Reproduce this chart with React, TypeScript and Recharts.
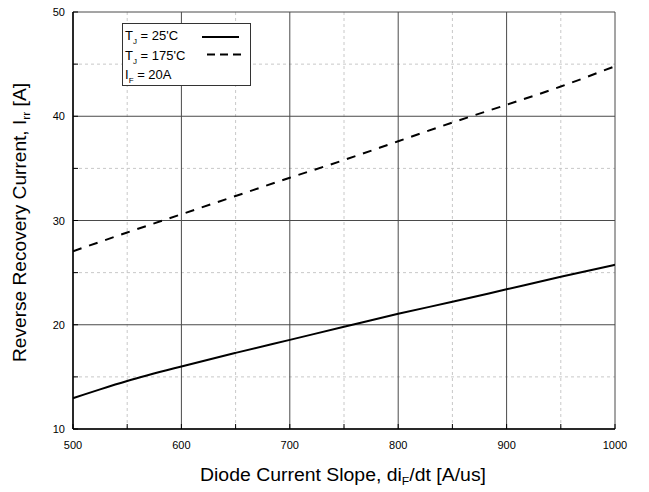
import { CartesianGrid, Legend, Line, LineChart, XAxis, YAxis } from 'recharts';

document.body.style.margin = '0';

const slopeTicks = [500, 600, 700, 800, 900, 1000];
const slopeMinor = [550, 650, 750, 850, 950];
const currentTicks = [10, 20, 30, 40, 50];
const currentMinor = [15, 25, 35, 45];

// T_J = 25'C
const slope25 = [500, 510, 525, 550, 600, 650, 700, 750, 800, 850, 900, 950, 1000];
const irr25 = [12.95, 13.3, 13.8, 14.6, 16.0, 17.3, 18.55, 19.8, 21.05, 22.2, 23.4, 24.6, 25.75];
// T_J = 175'C
const slope175 = [500, 550, 600, 650, 700, 750, 800, 850, 900, 950, 1000];
const irr175 = [27.05, 28.85, 30.6, 32.35, 34.1, 35.8, 37.6, 39.4, 41.1, 42.85, 44.8];

const data25 = slope25.map((s, i) => ({ slope: s, irr: irr25[i] }));
const data175 = slope175.map((s, i) => ({ slope: s, irr: irr175[i] }));

const xAll = [...slopeTicks, ...slopeMinor].sort((a, b) => a - b);
const yAll = [...currentTicks, ...currentMinor].sort((a, b) => a - b);

const TICK = 5;
const FONT = '"Liberation Sans", Arial, sans-serif';

const BottomTick = ({ x, y, payload }: any) => {
  const major = slopeTicks.includes(payload.value);
  return (
    <g>
      <line x1={x} y1={y} x2={x} y2={y - TICK} stroke="#000" />
      {major && (
        <text x={x} y={y + 20} textAnchor="middle" fontSize={11} fill="#000">
          {payload.value}
        </text>
      )}
    </g>
  );
};

const TopTick = ({ x, y }: any) => (
  <line x1={x} y1={y} x2={x} y2={y + TICK} stroke="#000" />
);

const LeftTick = ({ x, y, payload }: any) => {
  const major = currentTicks.includes(payload.value);
  return (
    <g>
      <line x1={x} y1={y} x2={x + TICK} y2={y} stroke="#000" />
      {major && (
        <text x={x - 8} y={y + 4} textAnchor="end" fontSize={11} fill="#000">
          {payload.value}
        </text>
      )}
    </g>
  );
};

const RightTick = ({ x, y }: any) => (
  <line x1={x} y1={y} x2={x - TICK} y2={y} stroke="#000" />
);

const XTitle = ({ viewBox }: any) => (
  <text
    x={viewBox.x + viewBox.width / 2 - 1}
    y={viewBox.y + 52}
    textAnchor="middle"
    fontSize={17.5}
    fill="#000"
    textLength={286}
    lengthAdjust="spacingAndGlyphs"
  >
    <tspan>Diode Current Slope, di</tspan>
    <tspan fontSize={11} dy={4}>F</tspan>
    <tspan dy={-4}>/dt [A/us]</tspan>
  </text>
);

const YTitle = ({ viewBox }: any) => {
  const cx = 26;
  const cy = viewBox.y + viewBox.height / 2 + 2;
  return (
    <text
      x={cx}
      y={cy}
      transform={`rotate(-90, ${cx}, ${cy})`}
      textAnchor="middle"
      fontSize={17.5}
      fill="#000"
      textLength={279}
      lengthAdjust="spacingAndGlyphs"
    >
      <tspan>Reverse Recovery Current, I</tspan>
      <tspan fontSize={11} dy={4}>rr</tspan>
      <tspan dy={-4}> [A]</tspan>
    </text>
  );
};

const Sub = ({ children }: { children: string }) => (
  <span style={{ fontSize: 8, position: 'relative', top: 4 }}>{children}</span>
);

const renderLegend = () => (
  <div
    style={{
      width: 127,
      height: 58,
      border: '1px solid #333',
      background: '#fff',
      fontSize: 13,
      lineHeight: '17.5px',
      color: '#000',
      position: 'relative',
      boxSizing: 'content-box',
      paddingTop: 3,
    }}
  >
    <div style={{ paddingLeft: 2 }}>
      T<Sub>J</Sub> = 25'C
    </div>
    <div style={{ paddingLeft: 2 }}>
      T<Sub>J</Sub> = 175'C
    </div>
    <div style={{ paddingLeft: 2 }}>
      I<Sub>F</Sub> = 20A
    </div>
    <svg width={127} height={60} style={{ position: 'absolute', left: 0, top: 0 }}>
      <line x1={79} y1={13} x2={116} y2={13} stroke="#000" strokeWidth={2} />
      <line x1={84} y1={30.5} x2={120} y2={30.5} stroke="#000" strokeWidth={2} strokeDasharray="8 5" />
    </svg>
  </div>
);

export default function App() {
  return (
    <div style={{ fontFamily: FONT }}>
      <LineChart width={649} height={492} margin={{ top: 12, right: 34, bottom: 0, left: 0 }}>
        <CartesianGrid
          verticalValues={slopeMinor}
          horizontalValues={currentMinor}
          stroke="#c8c8c8"
          strokeDasharray="3 3"
        />
        <CartesianGrid
          verticalValues={slopeTicks}
          horizontalValues={currentTicks}
          stroke="#4a4a4a"
        />
        <XAxis
          dataKey="slope"
          type="number"
          domain={[500, 1000]}
          ticks={xAll}
          interval={0}
          height={63}
          tickSize={0}
          tickMargin={0}
          tick={BottomTick}
          axisLine={{ stroke: '#000', strokeWidth: 1.5 }}
          label={{ content: XTitle }}
          allowDataOverflow
        />
        <XAxis
          xAxisId="top"
          orientation="top"
          dataKey="slope"
          type="number"
          domain={[500, 1000]}
          ticks={xAll}
          interval={0}
          height={0}
          tickSize={0}
          tickMargin={0}
          tick={TopTick}
          axisLine={{ stroke: '#000', strokeWidth: 1.5 }}
        />
        <YAxis
          type="number"
          domain={[10, 50]}
          ticks={yAll}
          interval={0}
          width={73}
          tickSize={0}
          tickMargin={0}
          tick={LeftTick}
          axisLine={{ stroke: '#000', strokeWidth: 1.5 }}
          label={{ content: YTitle }}
          allowDataOverflow
        />
        <YAxis
          yAxisId="right"
          orientation="right"
          type="number"
          domain={[10, 50]}
          ticks={yAll}
          interval={0}
          width={0}
          tickSize={0}
          tickMargin={0}
          tick={RightTick}
          axisLine={{ stroke: '#000', strokeWidth: 1.5 }}
        />
        <Legend
          layout="horizontal"
          verticalAlign="middle"
          align="center"
          content={renderLegend}
          wrapperStyle={{ left: 122, top: 23, width: 129, height: 62 }}
        />
        <Line
          data={data25}
          dataKey="irr"
          type="monotone"
          stroke="#000"
          strokeWidth={2}
          dot={false}
          isAnimationActive={false}
        />
        <Line
          data={data175}
          dataKey="irr"
          type="monotone"
          stroke="#000"
          strokeWidth={2}
          strokeDasharray="9 8"
          dot={false}
          isAnimationActive={false}
        />
      </LineChart>
    </div>
  );
}
